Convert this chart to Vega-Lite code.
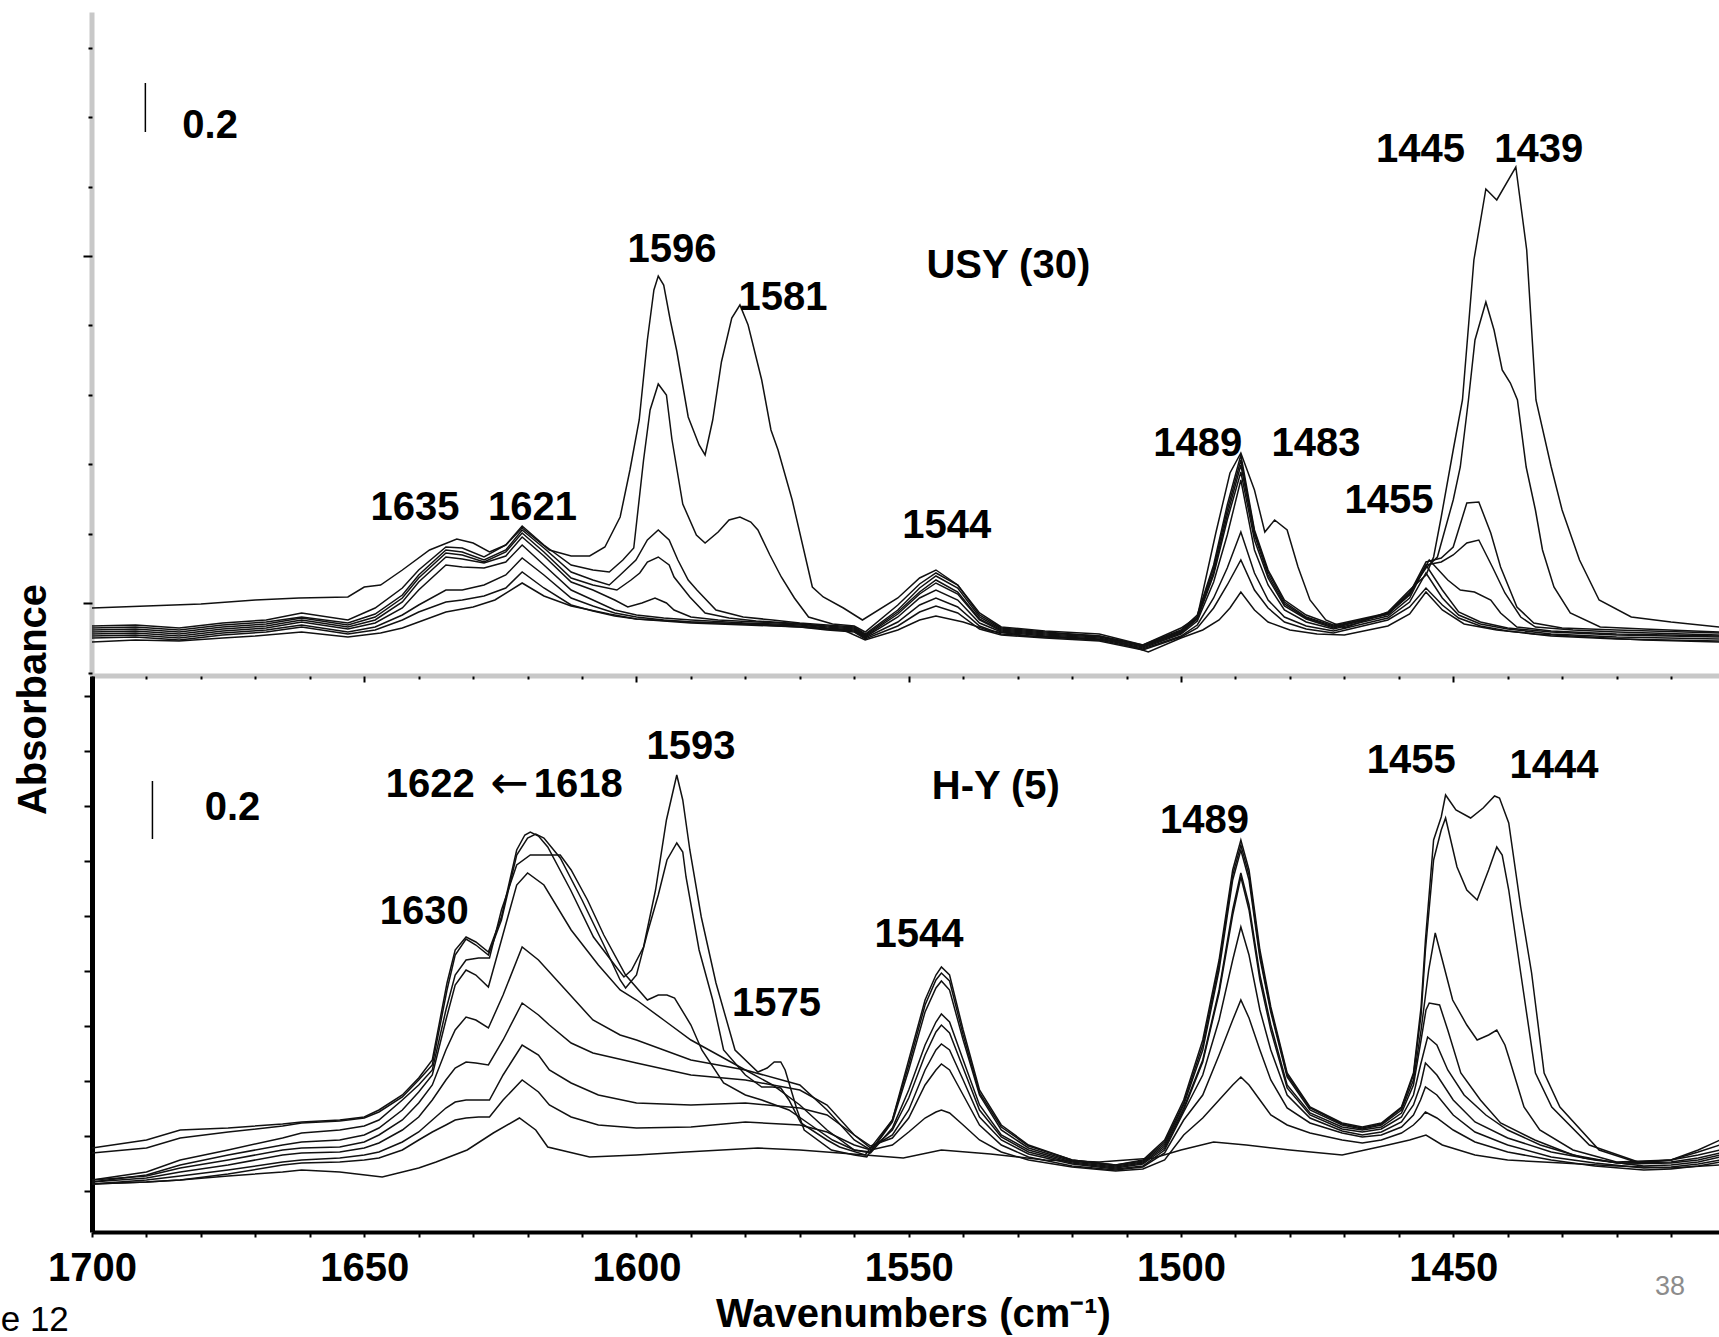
{
"$schema": "https://vega.github.io/schema/vega-lite/v6.json",
"padding": {"left": 0, "top": 10, "right": 0, "bottom": 0},
"background": "white",
"spacing": 0,
"bounds": "flush",
"config": {"view": {"stroke": null}, "axis": {"grid": false}},
"resolve": {"scale": {"x": "independent", "y": "independent"}},
"datasets": {
"top": [
{"s":"T1","w":1700,"a":0.328},{"s":"T1","w":1690,"a":0.336},{"s":"T1","w":1680,"a":0.344},{"s":"T1","w":1670,"a":0.36},{"s":"T1","w":1662,"a":0.368},{"s":"T1","w":1653,"a":0.372},{"s":"T1","w":1650,"a":0.412},{"s":"T1","w":1647,"a":0.42},{"s":"T1","w":1643,"a":0.48},{"s":"T1","w":1638,"a":0.56},{"s":"T1","w":1633,"a":0.604},{"s":"T1","w":1630,"a":0.588},{"s":"T1","w":1627,"a":0.552},{"s":"T1","w":1624,"a":0.58},{"s":"T1","w":1621,"a":0.648},{"s":"T1","w":1616,"a":0.56},{"s":"T1","w":1612,"a":0.536},{"s":"T1","w":1608.6,"a":0.536},{"s":"T1","w":1605.8,"a":0.572},{"s":"T1","w":1603,"a":0.692},{"s":"T1","w":1601.2,"a":0.88},{"s":"T1","w":1599.5,"a":1.08},{"s":"T1","w":1598,"a":1.4},{"s":"T1","w":1596.8,"a":1.6},{"s":"T1","w":1596,"a":1.656},{"s":"T1","w":1595,"a":1.62},{"s":"T1","w":1593.8,"a":1.48},{"s":"T1","w":1592.6,"a":1.356},{"s":"T1","w":1590.5,"a":1.092},{"s":"T1","w":1588.5,"a":0.98},{"s":"T1","w":1587.4,"a":0.94},{"s":"T1","w":1586,"a":1.08},{"s":"T1","w":1584.4,"a":1.312},{"s":"T1","w":1582.5,"a":1.488},{"s":"T1","w":1581,"a":1.54},{"s":"T1","w":1579.5,"a":1.46},{"s":"T1","w":1577,"a":1.24},{"s":"T1","w":1575.3,"a":1.04},{"s":"T1","w":1574,"a":0.96},{"s":"T1","w":1571.4,"a":0.76},{"s":"T1","w":1567.7,"a":0.412},{"s":"T1","w":1565.7,"a":0.372},{"s":"T1","w":1562,"a":0.328},{"s":"T1","w":1558.5,"a":0.28},{"s":"T1","w":1552,"a":0.368},{"s":"T1","w":1548,"a":0.448},{"s":"T1","w":1545,"a":0.48},{"s":"T1","w":1541,"a":0.42},{"s":"T1","w":1537,"a":0.3},{"s":"T1","w":1533,"a":0.248},{"s":"T1","w":1525,"a":0.232},{"s":"T1","w":1515,"a":0.216},{"s":"T1","w":1507,"a":0.18},{"s":"T1","w":1500,"a":0.248},{"s":"T1","w":1497,"a":0.292},{"s":"T1","w":1493.6,"a":0.628},{"s":"T1","w":1491,"a":0.868},{"s":"T1","w":1489,"a":0.948},{"s":"T1","w":1486.5,"a":0.8},{"s":"T1","w":1484.6,"a":0.632},{"s":"T1","w":1482.8,"a":0.68},{"s":"T1","w":1480.5,"a":0.64},{"s":"T1","w":1478.5,"a":0.492},{"s":"T1","w":1476.3,"a":0.36},{"s":"T1","w":1473.4,"a":0.28},{"s":"T1","w":1470,"a":0.248},{"s":"T1","w":1462,"a":0.312},{"s":"T1","w":1458,"a":0.4},{"s":"T1","w":1455,"a":0.46},{"s":"T1","w":1453.6,"a":0.532},{"s":"T1","w":1452.2,"a":0.692},{"s":"T1","w":1450,"a":0.96},{"s":"T1","w":1448.3,"a":1.16},{"s":"T1","w":1446.2,"a":1.72},{"s":"T1","w":1444,"a":2.004},{"s":"T1","w":1442,"a":1.96},{"s":"T1","w":1438.5,"a":2.092},{"s":"T1","w":1436.5,"a":1.76},{"s":"T1","w":1434.8,"a":1.16},{"s":"T1","w":1432,"a":0.892},{"s":"T1","w":1430,"a":0.72},{"s":"T1","w":1426.8,"a":0.52},{"s":"T1","w":1423.2,"a":0.36},{"s":"T1","w":1417.3,"a":0.292},{"s":"T1","w":1410,"a":0.272},{"s":"T1","w":1401,"a":0.252},
{"s":"T2","w":1700,"a":0.256},{"s":"T2","w":1692,"a":0.26},{"s":"T2","w":1684,"a":0.248},{"s":"T2","w":1676,"a":0.268},{"s":"T2","w":1668,"a":0.28},{"s":"T2","w":1661.5,"a":0.308},{"s":"T2","w":1653,"a":0.28},{"s":"T2","w":1648,"a":0.328},{"s":"T2","w":1643,"a":0.408},{"s":"T2","w":1640,"a":0.48},{"s":"T2","w":1635,"a":0.572},{"s":"T2","w":1632,"a":0.568},{"s":"T2","w":1628,"a":0.532},{"s":"T2","w":1624,"a":0.58},{"s":"T2","w":1621,"a":0.656},{"s":"T2","w":1617,"a":0.58},{"s":"T2","w":1612,"a":0.5},{"s":"T2","w":1608,"a":0.48},{"s":"T2","w":1605,"a":0.472},{"s":"T2","w":1602.5,"a":0.52},{"s":"T2","w":1600.5,"a":0.568},{"s":"T2","w":1598.7,"a":0.92},{"s":"T2","w":1597.5,"a":1.12},{"s":"T2","w":1596,"a":1.224},{"s":"T2","w":1594.5,"a":1.18},{"s":"T2","w":1593.5,"a":1.004},{"s":"T2","w":1591.5,"a":0.744},{"s":"T2","w":1589,"a":0.62},{"s":"T2","w":1587.4,"a":0.588},{"s":"T2","w":1585,"a":0.632},{"s":"T2","w":1583,"a":0.68},{"s":"T2","w":1581,"a":0.692},{"s":"T2","w":1579,"a":0.672},{"s":"T2","w":1577.7,"a":0.64},{"s":"T2","w":1575.5,"a":0.54},{"s":"T2","w":1573.4,"a":0.452},{"s":"T2","w":1571,"a":0.368},{"s":"T2","w":1568.4,"a":0.292},{"s":"T2","w":1564,"a":0.264},{"s":"T2","w":1560,"a":0.256},{"s":"T2","w":1558,"a":0.232},{"s":"T2","w":1552,"a":0.34},{"s":"T2","w":1548,"a":0.424},{"s":"T2","w":1545,"a":0.468},{"s":"T2","w":1541,"a":0.42},{"s":"T2","w":1537,"a":0.308},{"s":"T2","w":1533,"a":0.252},{"s":"T2","w":1525,"a":0.236},{"s":"T2","w":1515,"a":0.224},{"s":"T2","w":1507,"a":0.18},{"s":"T2","w":1500,"a":0.24},{"s":"T2","w":1497,"a":0.3},{"s":"T2","w":1494,"a":0.5},{"s":"T2","w":1491.5,"a":0.74},{"s":"T2","w":1489,"a":0.94},{"s":"T2","w":1486.5,"a":0.64},{"s":"T2","w":1484,"a":0.48},{"s":"T2","w":1481,"a":0.36},{"s":"T2","w":1477,"a":0.3},{"s":"T2","w":1472,"a":0.26},{"s":"T2","w":1462,"a":0.308},{"s":"T2","w":1458,"a":0.392},{"s":"T2","w":1455,"a":0.488},{"s":"T2","w":1452.9,"a":0.532},{"s":"T2","w":1450,"a":0.76},{"s":"T2","w":1448.7,"a":0.892},{"s":"T2","w":1447.2,"a":1.16},{"s":"T2","w":1446,"a":1.4},{"s":"T2","w":1444,"a":1.552},{"s":"T2","w":1442.5,"a":1.44},{"s":"T2","w":1441,"a":1.28},{"s":"T2","w":1439.5,"a":1.228},{"s":"T2","w":1438.2,"a":1.16},{"s":"T2","w":1436.6,"a":0.892},{"s":"T2","w":1434.9,"a":0.72},{"s":"T2","w":1433.6,"a":0.56},{"s":"T2","w":1431.5,"a":0.412},{"s":"T2","w":1428.5,"a":0.308},{"s":"T2","w":1423,"a":0.252},{"s":"T2","w":1415,"a":0.244},{"s":"T2","w":1401,"a":0.232},
{"s":"T3","w":1700,"a":0.248},{"s":"T3","w":1692,"a":0.252},{"s":"T3","w":1684,"a":0.24},{"s":"T3","w":1676,"a":0.26},{"s":"T3","w":1668,"a":0.272},{"s":"T3","w":1661.5,"a":0.292},{"s":"T3","w":1653,"a":0.268},{"s":"T3","w":1648,"a":0.304},{"s":"T3","w":1643,"a":0.38},{"s":"T3","w":1640,"a":0.46},{"s":"T3","w":1635,"a":0.56},{"s":"T3","w":1632,"a":0.552},{"s":"T3","w":1628,"a":0.52},{"s":"T3","w":1624,"a":0.56},{"s":"T3","w":1621,"a":0.64},{"s":"T3","w":1617,"a":0.568},{"s":"T3","w":1612,"a":0.472},{"s":"T3","w":1608,"a":0.44},{"s":"T3","w":1605,"a":0.42},{"s":"T3","w":1603,"a":0.46},{"s":"T3","w":1600.1,"a":0.52},{"s":"T3","w":1598,"a":0.6},{"s":"T3","w":1596,"a":0.64},{"s":"T3","w":1594,"a":0.6},{"s":"T3","w":1592.4,"a":0.52},{"s":"T3","w":1590.5,"a":0.44},{"s":"T3","w":1588.9,"a":0.4},{"s":"T3","w":1585.4,"a":0.32},{"s":"T3","w":1580.4,"a":0.292},{"s":"T3","w":1575,"a":0.28},{"s":"T3","w":1570,"a":0.268},{"s":"T3","w":1565,"a":0.26},{"s":"T3","w":1560,"a":0.252},{"s":"T3","w":1558,"a":0.224},{"s":"T3","w":1552,"a":0.32},{"s":"T3","w":1548,"a":0.408},{"s":"T3","w":1545,"a":0.456},{"s":"T3","w":1541,"a":0.408},{"s":"T3","w":1537,"a":0.292},{"s":"T3","w":1533,"a":0.244},{"s":"T3","w":1525,"a":0.228},{"s":"T3","w":1515,"a":0.216},{"s":"T3","w":1507,"a":0.176},{"s":"T3","w":1500,"a":0.236},{"s":"T3","w":1497,"a":0.292},{"s":"T3","w":1494,"a":0.488},{"s":"T3","w":1491.5,"a":0.72},{"s":"T3","w":1489,"a":0.92},{"s":"T3","w":1486.5,"a":0.632},{"s":"T3","w":1484,"a":0.472},{"s":"T3","w":1481,"a":0.352},{"s":"T3","w":1477,"a":0.292},{"s":"T3","w":1472,"a":0.256},{"s":"T3","w":1462,"a":0.304},{"s":"T3","w":1458,"a":0.388},{"s":"T3","w":1455,"a":0.512},{"s":"T3","w":1452.2,"a":0.528},{"s":"T3","w":1450,"a":0.572},{"s":"T3","w":1447.5,"a":0.748},{"s":"T3","w":1445.3,"a":0.752},{"s":"T3","w":1443.1,"a":0.628},{"s":"T3","w":1441.3,"a":0.492},{"s":"T3","w":1438.3,"a":0.332},{"s":"T3","w":1435.2,"a":0.268},{"s":"T3","w":1430,"a":0.248},{"s":"T3","w":1420,"a":0.24},{"s":"T3","w":1401,"a":0.228},
{"s":"T4","w":1700,"a":0.24},{"s":"T4","w":1692,"a":0.244},{"s":"T4","w":1684,"a":0.232},{"s":"T4","w":1676,"a":0.252},{"s":"T4","w":1668,"a":0.264},{"s":"T4","w":1661.5,"a":0.288},{"s":"T4","w":1653,"a":0.26},{"s":"T4","w":1648,"a":0.292},{"s":"T4","w":1643,"a":0.368},{"s":"T4","w":1640,"a":0.448},{"s":"T4","w":1635,"a":0.548},{"s":"T4","w":1632,"a":0.54},{"s":"T4","w":1628,"a":0.512},{"s":"T4","w":1624,"a":0.552},{"s":"T4","w":1621,"a":0.628},{"s":"T4","w":1617,"a":0.552},{"s":"T4","w":1612,"a":0.448},{"s":"T4","w":1608,"a":0.42},{"s":"T4","w":1603.6,"a":0.4},{"s":"T4","w":1601,"a":0.44},{"s":"T4","w":1599.4,"a":0.468},{"s":"T4","w":1598,"a":0.512},{"s":"T4","w":1596,"a":0.532},{"s":"T4","w":1594,"a":0.5},{"s":"T4","w":1593.1,"a":0.452},{"s":"T4","w":1590.2,"a":0.372},{"s":"T4","w":1587.4,"a":0.308},{"s":"T4","w":1583,"a":0.288},{"s":"T4","w":1578,"a":0.276},{"s":"T4","w":1572,"a":0.268},{"s":"T4","w":1565,"a":0.256},{"s":"T4","w":1560,"a":0.248},{"s":"T4","w":1558,"a":0.22},{"s":"T4","w":1552,"a":0.312},{"s":"T4","w":1548,"a":0.392},{"s":"T4","w":1545,"a":0.44},{"s":"T4","w":1541,"a":0.392},{"s":"T4","w":1537,"a":0.284},{"s":"T4","w":1533,"a":0.24},{"s":"T4","w":1525,"a":0.224},{"s":"T4","w":1515,"a":0.212},{"s":"T4","w":1507,"a":0.176},{"s":"T4","w":1500,"a":0.232},{"s":"T4","w":1497,"a":0.288},{"s":"T4","w":1494,"a":0.472},{"s":"T4","w":1491.5,"a":0.7},{"s":"T4","w":1489,"a":0.9},{"s":"T4","w":1486.5,"a":0.62},{"s":"T4","w":1484,"a":0.46},{"s":"T4","w":1481,"a":0.344},{"s":"T4","w":1477,"a":0.288},{"s":"T4","w":1472,"a":0.252},{"s":"T4","w":1462,"a":0.304},{"s":"T4","w":1458,"a":0.384},{"s":"T4","w":1455,"a":0.5},{"s":"T4","w":1452.2,"a":0.512},{"s":"T4","w":1450,"a":0.54},{"s":"T4","w":1447.5,"a":0.588},{"s":"T4","w":1445.3,"a":0.6},{"s":"T4","w":1442.8,"a":0.492},{"s":"T4","w":1440.5,"a":0.388},{"s":"T4","w":1437.6,"a":0.292},{"s":"T4","w":1434.9,"a":0.252},{"s":"T4","w":1428,"a":0.24},{"s":"T4","w":1420,"a":0.232},{"s":"T4","w":1401,"a":0.22},
{"s":"T5","w":1700,"a":0.232},{"s":"T5","w":1692,"a":0.236},{"s":"T5","w":1684,"a":0.224},{"s":"T5","w":1676,"a":0.244},{"s":"T5","w":1668,"a":0.256},{"s":"T5","w":1661.5,"a":0.28},{"s":"T5","w":1653,"a":0.252},{"s":"T5","w":1648,"a":0.28},{"s":"T5","w":1643,"a":0.352},{"s":"T5","w":1640,"a":0.432},{"s":"T5","w":1635,"a":0.532},{"s":"T5","w":1632,"a":0.524},{"s":"T5","w":1628,"a":0.508},{"s":"T5","w":1624,"a":0.536},{"s":"T5","w":1621,"a":0.612},{"s":"T5","w":1617,"a":0.536},{"s":"T5","w":1612,"a":0.432},{"s":"T5","w":1608,"a":0.4},{"s":"T5","w":1604,"a":0.36},{"s":"T5","w":1601.6,"a":0.332},{"s":"T5","w":1599,"a":0.348},{"s":"T5","w":1596.6,"a":0.368},{"s":"T5","w":1594.5,"a":0.348},{"s":"T5","w":1593.1,"a":0.32},{"s":"T5","w":1590,"a":0.292},{"s":"T5","w":1585,"a":0.28},{"s":"T5","w":1578,"a":0.272},{"s":"T5","w":1570,"a":0.264},{"s":"T5","w":1565,"a":0.252},{"s":"T5","w":1560,"a":0.244},{"s":"T5","w":1558,"a":0.216},{"s":"T5","w":1552,"a":0.304},{"s":"T5","w":1548,"a":0.384},{"s":"T5","w":1545,"a":0.428},{"s":"T5","w":1541,"a":0.384},{"s":"T5","w":1537,"a":0.28},{"s":"T5","w":1533,"a":0.236},{"s":"T5","w":1525,"a":0.22},{"s":"T5","w":1515,"a":0.208},{"s":"T5","w":1507,"a":0.172},{"s":"T5","w":1500,"a":0.228},{"s":"T5","w":1497,"a":0.284},{"s":"T5","w":1494,"a":0.46},{"s":"T5","w":1491.5,"a":0.68},{"s":"T5","w":1489,"a":0.872},{"s":"T5","w":1486.5,"a":0.6},{"s":"T5","w":1484,"a":0.448},{"s":"T5","w":1481,"a":0.336},{"s":"T5","w":1477,"a":0.284},{"s":"T5","w":1472,"a":0.248},{"s":"T5","w":1462,"a":0.304},{"s":"T5","w":1458,"a":0.38},{"s":"T5","w":1454.4,"a":0.52},{"s":"T5","w":1451,"a":0.44},{"s":"T5","w":1448.7,"a":0.4},{"s":"T5","w":1446.1,"a":0.392},{"s":"T5","w":1443.1,"a":0.36},{"s":"T5","w":1441.3,"a":0.308},{"s":"T5","w":1438.3,"a":0.252},{"s":"T5","w":1432,"a":0.236},{"s":"T5","w":1420,"a":0.224},{"s":"T5","w":1401,"a":0.216},
{"s":"T6","w":1700,"a":0.224},{"s":"T6","w":1692,"a":0.228},{"s":"T6","w":1684,"a":0.216},{"s":"T6","w":1676,"a":0.236},{"s":"T6","w":1668,"a":0.248},{"s":"T6","w":1661.5,"a":0.272},{"s":"T6","w":1653,"a":0.244},{"s":"T6","w":1648,"a":0.268},{"s":"T6","w":1643,"a":0.328},{"s":"T6","w":1640,"a":0.4},{"s":"T6","w":1635,"a":0.5},{"s":"T6","w":1632,"a":0.492},{"s":"T6","w":1628,"a":0.488},{"s":"T6","w":1624,"a":0.512},{"s":"T6","w":1621,"a":0.58},{"s":"T6","w":1617,"a":0.5},{"s":"T6","w":1612,"a":0.4},{"s":"T6","w":1608,"a":0.36},{"s":"T6","w":1604,"a":0.32},{"s":"T6","w":1600,"a":0.3},{"s":"T6","w":1595,"a":0.288},{"s":"T6","w":1590,"a":0.28},{"s":"T6","w":1580,"a":0.268},{"s":"T6","w":1570,"a":0.26},{"s":"T6","w":1565,"a":0.248},{"s":"T6","w":1560,"a":0.24},{"s":"T6","w":1558,"a":0.212},{"s":"T6","w":1552,"a":0.292},{"s":"T6","w":1548,"a":0.368},{"s":"T6","w":1545,"a":0.4},{"s":"T6","w":1541,"a":0.36},{"s":"T6","w":1537,"a":0.268},{"s":"T6","w":1533,"a":0.232},{"s":"T6","w":1525,"a":0.216},{"s":"T6","w":1515,"a":0.204},{"s":"T6","w":1507,"a":0.168},{"s":"T6","w":1500,"a":0.224},{"s":"T6","w":1497,"a":0.276},{"s":"T6","w":1494,"a":0.432},{"s":"T6","w":1491.5,"a":0.62},{"s":"T6","w":1489,"a":0.84},{"s":"T6","w":1486.5,"a":0.56},{"s":"T6","w":1484,"a":0.42},{"s":"T6","w":1481,"a":0.32},{"s":"T6","w":1477,"a":0.272},{"s":"T6","w":1472,"a":0.244},{"s":"T6","w":1462,"a":0.296},{"s":"T6","w":1458,"a":0.368},{"s":"T6","w":1455,"a":0.5},{"s":"T6","w":1452,"a":0.4},{"s":"T6","w":1449,"a":0.312},{"s":"T6","w":1445,"a":0.272},{"s":"T6","w":1440,"a":0.248},{"s":"T6","w":1432,"a":0.232},{"s":"T6","w":1420,"a":0.22},{"s":"T6","w":1401,"a":0.212},
{"s":"T7","w":1700,"a":0.216},{"s":"T7","w":1692,"a":0.22},{"s":"T7","w":1684,"a":0.208},{"s":"T7","w":1676,"a":0.228},{"s":"T7","w":1668,"a":0.24},{"s":"T7","w":1661.5,"a":0.26},{"s":"T7","w":1653,"a":0.232},{"s":"T7","w":1648,"a":0.252},{"s":"T7","w":1643,"a":0.3},{"s":"T7","w":1640,"a":0.34},{"s":"T7","w":1635,"a":0.4},{"s":"T7","w":1632,"a":0.4},{"s":"T7","w":1628,"a":0.42},{"s":"T7","w":1624,"a":0.46},{"s":"T7","w":1621,"a":0.528},{"s":"T7","w":1617,"a":0.46},{"s":"T7","w":1612,"a":0.368},{"s":"T7","w":1608,"a":0.336},{"s":"T7","w":1604,"a":0.308},{"s":"T7","w":1600,"a":0.292},{"s":"T7","w":1595,"a":0.28},{"s":"T7","w":1590,"a":0.272},{"s":"T7","w":1580,"a":0.264},{"s":"T7","w":1570,"a":0.256},{"s":"T7","w":1565,"a":0.244},{"s":"T7","w":1560,"a":0.236},{"s":"T7","w":1558,"a":0.208},{"s":"T7","w":1552,"a":0.272},{"s":"T7","w":1548,"a":0.34},{"s":"T7","w":1545,"a":0.368},{"s":"T7","w":1541,"a":0.332},{"s":"T7","w":1537,"a":0.256},{"s":"T7","w":1533,"a":0.224},{"s":"T7","w":1525,"a":0.212},{"s":"T7","w":1515,"a":0.2},{"s":"T7","w":1507,"a":0.164},{"s":"T7","w":1500,"a":0.216},{"s":"T7","w":1497,"a":0.26},{"s":"T7","w":1494,"a":0.368},{"s":"T7","w":1491.5,"a":0.488},{"s":"T7","w":1489,"a":0.632},{"s":"T7","w":1486.5,"a":0.468},{"s":"T7","w":1484,"a":0.36},{"s":"T7","w":1481,"a":0.292},{"s":"T7","w":1477,"a":0.256},{"s":"T7","w":1472,"a":0.236},{"s":"T7","w":1462,"a":0.288},{"s":"T7","w":1458,"a":0.352},{"s":"T7","w":1455,"a":0.468},{"s":"T7","w":1452,"a":0.368},{"s":"T7","w":1449,"a":0.3},{"s":"T7","w":1445,"a":0.264},{"s":"T7","w":1440,"a":0.244},{"s":"T7","w":1432,"a":0.224},{"s":"T7","w":1420,"a":0.212},{"s":"T7","w":1401,"a":0.204},
{"s":"T8","w":1700,"a":0.208},{"s":"T8","w":1692,"a":0.212},{"s":"T8","w":1684,"a":0.2},{"s":"T8","w":1676,"a":0.22},{"s":"T8","w":1668,"a":0.232},{"s":"T8","w":1661.5,"a":0.252},{"s":"T8","w":1653,"a":0.224},{"s":"T8","w":1648,"a":0.24},{"s":"T8","w":1643,"a":0.28},{"s":"T8","w":1640,"a":0.312},{"s":"T8","w":1635,"a":0.352},{"s":"T8","w":1632,"a":0.36},{"s":"T8","w":1628,"a":0.376},{"s":"T8","w":1624,"a":0.408},{"s":"T8","w":1621,"a":0.472},{"s":"T8","w":1617,"a":0.408},{"s":"T8","w":1612,"a":0.34},{"s":"T8","w":1608,"a":0.316},{"s":"T8","w":1604,"a":0.296},{"s":"T8","w":1600,"a":0.284},{"s":"T8","w":1595,"a":0.276},{"s":"T8","w":1590,"a":0.268},{"s":"T8","w":1580,"a":0.26},{"s":"T8","w":1570,"a":0.252},{"s":"T8","w":1565,"a":0.24},{"s":"T8","w":1560,"a":0.232},{"s":"T8","w":1558,"a":0.204},{"s":"T8","w":1552,"a":0.256},{"s":"T8","w":1548,"a":0.312},{"s":"T8","w":1545,"a":0.336},{"s":"T8","w":1541,"a":0.308},{"s":"T8","w":1537,"a":0.244},{"s":"T8","w":1533,"a":0.22},{"s":"T8","w":1525,"a":0.208},{"s":"T8","w":1515,"a":0.196},{"s":"T8","w":1507,"a":0.16},{"s":"T8","w":1500,"a":0.212},{"s":"T8","w":1497,"a":0.248},{"s":"T8","w":1494,"a":0.328},{"s":"T8","w":1491.5,"a":0.42},{"s":"T8","w":1489,"a":0.52},{"s":"T8","w":1486.5,"a":0.4},{"s":"T8","w":1484,"a":0.328},{"s":"T8","w":1481,"a":0.272},{"s":"T8","w":1477,"a":0.244},{"s":"T8","w":1472,"a":0.228},{"s":"T8","w":1462,"a":0.28},{"s":"T8","w":1458,"a":0.332},{"s":"T8","w":1455,"a":0.408},{"s":"T8","w":1452,"a":0.34},{"s":"T8","w":1449,"a":0.288},{"s":"T8","w":1445,"a":0.256},{"s":"T8","w":1440,"a":0.236},{"s":"T8","w":1432,"a":0.216},{"s":"T8","w":1420,"a":0.204},{"s":"T8","w":1401,"a":0.196},
{"s":"T9","w":1700,"a":0.192},{"s":"T9","w":1692,"a":0.2},{"s":"T9","w":1684,"a":0.196},{"s":"T9","w":1676,"a":0.208},{"s":"T9","w":1670,"a":0.216},{"s":"T9","w":1661.5,"a":0.232},{"s":"T9","w":1653,"a":0.212},{"s":"T9","w":1647,"a":0.228},{"s":"T9","w":1643,"a":0.248},{"s":"T9","w":1640,"a":0.272},{"s":"T9","w":1635,"a":0.312},{"s":"T9","w":1630,"a":0.332},{"s":"T9","w":1626,"a":0.36},{"s":"T9","w":1621,"a":0.428},{"s":"T9","w":1617,"a":0.376},{"s":"T9","w":1612,"a":0.336},{"s":"T9","w":1605,"a":0.304},{"s":"T9","w":1600,"a":0.284},{"s":"T9","w":1590,"a":0.272},{"s":"T9","w":1580,"a":0.264},{"s":"T9","w":1570,"a":0.252},{"s":"T9","w":1562,"a":0.24},{"s":"T9","w":1558,"a":0.2},{"s":"T9","w":1552,"a":0.24},{"s":"T9","w":1548,"a":0.28},{"s":"T9","w":1545,"a":0.296},{"s":"T9","w":1540,"a":0.272},{"s":"T9","w":1535,"a":0.236},{"s":"T9","w":1528,"a":0.216},{"s":"T9","w":1520,"a":0.208},{"s":"T9","w":1512,"a":0.196},{"s":"T9","w":1506,"a":0.152},{"s":"T9","w":1500,"a":0.208},{"s":"T9","w":1496,"a":0.24},{"s":"T9","w":1493,"a":0.28},{"s":"T9","w":1491,"a":0.328},{"s":"T9","w":1489,"a":0.392},{"s":"T9","w":1486.5,"a":0.32},{"s":"T9","w":1484,"a":0.272},{"s":"T9","w":1480,"a":0.24},{"s":"T9","w":1475,"a":0.224},{"s":"T9","w":1470,"a":0.22},{"s":"T9","w":1462,"a":0.256},{"s":"T9","w":1458,"a":0.304},{"s":"T9","w":1455,"a":0.392},{"s":"T9","w":1452,"a":0.32},{"s":"T9","w":1448,"a":0.264},{"s":"T9","w":1442,"a":0.24},{"s":"T9","w":1435,"a":0.224},{"s":"T9","w":1425,"a":0.212},{"s":"T9","w":1415,"a":0.2},{"s":"T9","w":1401,"a":0.192}
],
"bot": [
{"s":"B1","w":1700,"a":0.392},{"s":"B1","w":1690,"a":0.424},{"s":"B1","w":1683.8,"a":0.464},{"s":"B1","w":1675,"a":0.472},{"s":"B1","w":1665,"a":0.488},{"s":"B1","w":1661.5,"a":0.496},{"s":"B1","w":1654.5,"a":0.504},{"s":"B1","w":1650,"a":0.516},{"s":"B1","w":1647.3,"a":0.544},{"s":"B1","w":1643,"a":0.604},{"s":"B1","w":1640,"a":0.672},{"s":"B1","w":1637.5,"a":0.744},{"s":"B1","w":1634.8,"a":1.052},{"s":"B1","w":1633.3,"a":1.184},{"s":"B1","w":1631.3,"a":1.236},{"s":"B1","w":1629.5,"a":1.216},{"s":"B1","w":1627.2,"a":1.176},{"s":"B1","w":1624.8,"a":1.316},{"s":"B1","w":1622,"a":1.584},{"s":"B1","w":1620.5,"a":1.644},{"s":"B1","w":1619.5,"a":1.656},{"s":"B1","w":1618,"a":1.64},{"s":"B1","w":1616.3,"a":1.596},{"s":"B1","w":1612.1,"a":1.424},{"s":"B1","w":1607.9,"a":1.236},{"s":"B1","w":1604,"a":1.124},{"s":"B1","w":1602.3,"a":1.076},{"s":"B1","w":1600.9,"a":1.104},{"s":"B1","w":1598.7,"a":1.196},{"s":"B1","w":1596.5,"a":1.424},{"s":"B1","w":1594.5,"a":1.704},{"s":"B1","w":1592.6,"a":1.884},{"s":"B1","w":1591.5,"a":1.784},{"s":"B1","w":1590.2,"a":1.584},{"s":"B1","w":1588.1,"a":1.316},{"s":"B1","w":1585.4,"a":1.052},{"s":"B1","w":1581.9,"a":0.784},{"s":"B1","w":1577.7,"a":0.696},{"s":"B1","w":1576,"a":0.712},{"s":"B1","w":1574.7,"a":0.736},{"s":"B1","w":1573.5,"a":0.736},{"s":"B1","w":1572.7,"a":0.704},{"s":"B1","w":1570.5,"a":0.544},{"s":"B1","w":1569.2,"a":0.464},{"s":"B1","w":1564.2,"a":0.384},{"s":"B1","w":1560,"a":0.364},{"s":"B1","w":1557.7,"a":0.356},{"s":"B1","w":1553,"a":0.504},{"s":"B1","w":1550,"a":0.744},{"s":"B1","w":1547,"a":0.984},{"s":"B1","w":1545,"a":1.084},{"s":"B1","w":1544,"a":1.116},{"s":"B1","w":1542.5,"a":1.084},{"s":"B1","w":1540,"a":0.864},{"s":"B1","w":1537,"a":0.624},{"s":"B1","w":1533,"a":0.484},{"s":"B1","w":1528,"a":0.404},{"s":"B1","w":1520,"a":0.344},{"s":"B1","w":1512,"a":0.324},{"s":"B1","w":1507,"a":0.344},{"s":"B1","w":1503,"a":0.424},{"s":"B1","w":1499.5,"a":0.584},{"s":"B1","w":1496,"a":0.824},{"s":"B1","w":1493,"a":1.144},{"s":"B1","w":1490.5,"a":1.504},{"s":"B1","w":1489,"a":1.624},{"s":"B1","w":1487.5,"a":1.504},{"s":"B1","w":1485.5,"a":1.184},{"s":"B1","w":1483.5,"a":0.956},{"s":"B1","w":1480.5,"a":0.692},{"s":"B1","w":1476.3,"a":0.556},{"s":"B1","w":1470.4,"a":0.492},{"s":"B1","w":1466.7,"a":0.476},{"s":"B1","w":1463.2,"a":0.492},{"s":"B1","w":1459.5,"a":0.556},{"s":"B1","w":1457.3,"a":0.692},{"s":"B1","w":1455.9,"a":0.956},{"s":"B1","w":1455.1,"a":1.224},{"s":"B1","w":1453.6,"a":1.624},{"s":"B1","w":1452.2,"a":1.716},{"s":"B1","w":1451.4,"a":1.804},{"s":"B1","w":1449.5,"a":1.744},{"s":"B1","w":1446.8,"a":1.712},{"s":"B1","w":1444.5,"a":1.752},{"s":"B1","w":1442.4,"a":1.8},{"s":"B1","w":1441.5,"a":1.792},{"s":"B1","w":1439.8,"a":1.692},{"s":"B1","w":1437.6,"a":1.356},{"s":"B1","w":1435.6,"a":1.092},{"s":"B1","w":1433.3,"a":0.692},{"s":"B1","w":1430.4,"a":0.556},{"s":"B1","w":1423.2,"a":0.384},{"s":"B1","w":1415.9,"a":0.332},{"s":"B1","w":1410,"a":0.344},{"s":"B1","w":1405,"a":0.384},{"s":"B1","w":1401,"a":0.424},
{"s":"B2","w":1700,"a":0.372},{"s":"B2","w":1690,"a":0.392},{"s":"B2","w":1683.8,"a":0.432},{"s":"B2","w":1675,"a":0.456},{"s":"B2","w":1665,"a":0.48},{"s":"B2","w":1661.5,"a":0.492},{"s":"B2","w":1654.5,"a":0.5},{"s":"B2","w":1650,"a":0.512},{"s":"B2","w":1647.3,"a":0.536},{"s":"B2","w":1643,"a":0.596},{"s":"B2","w":1640,"a":0.664},{"s":"B2","w":1637.5,"a":0.724},{"s":"B2","w":1634.8,"a":1.024},{"s":"B2","w":1633.3,"a":1.164},{"s":"B2","w":1631.3,"a":1.228},{"s":"B2","w":1629.5,"a":1.204},{"s":"B2","w":1627.2,"a":1.164},{"s":"B2","w":1624.8,"a":1.304},{"s":"B2","w":1622,"a":1.564},{"s":"B2","w":1620,"a":1.632},{"s":"B2","w":1618.5,"a":1.648},{"s":"B2","w":1617,"a":1.632},{"s":"B2","w":1614,"a":1.552},{"s":"B2","w":1610,"a":1.384},{"s":"B2","w":1606,"a":1.204},{"s":"B2","w":1603,"a":1.064},{"s":"B2","w":1602,"a":1.032},{"s":"B2","w":1600,"a":1.084},{"s":"B2","w":1598,"a":1.252},{"s":"B2","w":1596,"a":1.404},{"s":"B2","w":1594.4,"a":1.544},{"s":"B2","w":1592.6,"a":1.612},{"s":"B2","w":1591.5,"a":1.576},{"s":"B2","w":1590.9,"a":1.476},{"s":"B2","w":1588.5,"a":1.184},{"s":"B2","w":1586,"a":0.984},{"s":"B2","w":1584,"a":0.784},{"s":"B2","w":1580,"a":0.684},{"s":"B2","w":1577,"a":0.636},{"s":"B2","w":1575,"a":0.636},{"s":"B2","w":1573.5,"a":0.632},{"s":"B2","w":1572,"a":0.584},{"s":"B2","w":1569.8,"a":0.492},{"s":"B2","w":1565,"a":0.424},{"s":"B2","w":1562.7,"a":0.396},{"s":"B2","w":1558,"a":0.364},{"s":"B2","w":1553,"a":0.504},{"s":"B2","w":1550,"a":0.724},{"s":"B2","w":1547,"a":0.964},{"s":"B2","w":1545,"a":1.064},{"s":"B2","w":1544,"a":1.092},{"s":"B2","w":1542.5,"a":1.06},{"s":"B2","w":1540,"a":0.844},{"s":"B2","w":1537,"a":0.612},{"s":"B2","w":1533,"a":0.476},{"s":"B2","w":1528,"a":0.4},{"s":"B2","w":1520,"a":0.344},{"s":"B2","w":1512,"a":0.324},{"s":"B2","w":1507,"a":0.34},{"s":"B2","w":1503,"a":0.416},{"s":"B2","w":1499.5,"a":0.572},{"s":"B2","w":1496,"a":0.804},{"s":"B2","w":1493,"a":1.124},{"s":"B2","w":1490.5,"a":1.484},{"s":"B2","w":1489,"a":1.604},{"s":"B2","w":1487.5,"a":1.484},{"s":"B2","w":1485.5,"a":1.164},{"s":"B2","w":1483.5,"a":0.944},{"s":"B2","w":1480.5,"a":0.684},{"s":"B2","w":1476.3,"a":0.552},{"s":"B2","w":1470.4,"a":0.488},{"s":"B2","w":1466.7,"a":0.472},{"s":"B2","w":1463.2,"a":0.488},{"s":"B2","w":1459.5,"a":0.552},{"s":"B2","w":1457.3,"a":0.684},{"s":"B2","w":1455.9,"a":0.924},{"s":"B2","w":1455.1,"a":1.184},{"s":"B2","w":1453.6,"a":1.544},{"s":"B2","w":1452.2,"a":1.664},{"s":"B2","w":1451.4,"a":1.712},{"s":"B2","w":1449.3,"a":1.516},{"s":"B2","w":1447.5,"a":1.424},{"s":"B2","w":1445.6,"a":1.384},{"s":"B2","w":1443.5,"a":1.504},{"s":"B2","w":1442,"a":1.596},{"s":"B2","w":1441,"a":1.564},{"s":"B2","w":1439.8,"a":1.424},{"s":"B2","w":1437.6,"a":1.092},{"s":"B2","w":1434.9,"a":0.692},{"s":"B2","w":1431.9,"a":0.556},{"s":"B2","w":1425,"a":0.404},{"s":"B2","w":1416,"a":0.336},{"s":"B2","w":1410,"a":0.344},{"s":"B2","w":1405,"a":0.376},{"s":"B2","w":1401,"a":0.404},
{"s":"B3","w":1700,"a":0.264},{"s":"B3","w":1690,"a":0.296},{"s":"B3","w":1683.8,"a":0.344},{"s":"B3","w":1675,"a":0.384},{"s":"B3","w":1665,"a":0.432},{"s":"B3","w":1661.5,"a":0.452},{"s":"B3","w":1654.5,"a":0.464},{"s":"B3","w":1650,"a":0.48},{"s":"B3","w":1647.3,"a":0.504},{"s":"B3","w":1643,"a":0.584},{"s":"B3","w":1640,"a":0.644},{"s":"B3","w":1637.5,"a":0.704},{"s":"B3","w":1635,"a":0.944},{"s":"B3","w":1633.3,"a":1.084},{"s":"B3","w":1631.3,"a":1.144},{"s":"B3","w":1629,"a":1.152},{"s":"B3","w":1627,"a":1.152},{"s":"B3","w":1624.8,"a":1.344},{"s":"B3","w":1622,"a":1.524},{"s":"B3","w":1619.5,"a":1.564},{"s":"B3","w":1614,"a":1.564},{"s":"B3","w":1612,"a":1.504},{"s":"B3","w":1609,"a":1.384},{"s":"B3","w":1606,"a":1.244},{"s":"B3","w":1602,"a":1.084},{"s":"B3","w":1598,"a":0.984},{"s":"B3","w":1596,"a":1.004},{"s":"B3","w":1594.4,"a":1.004},{"s":"B3","w":1593,"a":0.992},{"s":"B3","w":1590,"a":0.884},{"s":"B3","w":1588,"a":0.784},{"s":"B3","w":1584,"a":0.652},{"s":"B3","w":1580,"a":0.604},{"s":"B3","w":1577,"a":0.584},{"s":"B3","w":1572,"a":0.544},{"s":"B3","w":1568,"a":0.484},{"s":"B3","w":1564,"a":0.424},{"s":"B3","w":1560,"a":0.384},{"s":"B3","w":1557,"a":0.376},{"s":"B3","w":1553,"a":0.496},{"s":"B3","w":1550,"a":0.704},{"s":"B3","w":1547,"a":0.936},{"s":"B3","w":1545,"a":1.032},{"s":"B3","w":1544,"a":1.06},{"s":"B3","w":1542.5,"a":1.024},{"s":"B3","w":1540,"a":0.824},{"s":"B3","w":1537,"a":0.604},{"s":"B3","w":1533,"a":0.464},{"s":"B3","w":1528,"a":0.392},{"s":"B3","w":1520,"a":0.34},{"s":"B3","w":1512,"a":0.32},{"s":"B3","w":1507,"a":0.336},{"s":"B3","w":1503,"a":0.408},{"s":"B3","w":1499.5,"a":0.564},{"s":"B3","w":1496,"a":0.784},{"s":"B3","w":1493,"a":1.104},{"s":"B3","w":1490.5,"a":1.464},{"s":"B3","w":1489,"a":1.584},{"s":"B3","w":1487.5,"a":1.464},{"s":"B3","w":1485.5,"a":1.152},{"s":"B3","w":1483.5,"a":0.936},{"s":"B3","w":1480.5,"a":0.676},{"s":"B3","w":1476.3,"a":0.544},{"s":"B3","w":1470.4,"a":0.484},{"s":"B3","w":1466.7,"a":0.468},{"s":"B3","w":1463.2,"a":0.484},{"s":"B3","w":1459.5,"a":0.544},{"s":"B3","w":1457.3,"a":0.664},{"s":"B3","w":1455.9,"a":0.864},{"s":"B3","w":1454.5,"a":1.104},{"s":"B3","w":1453.3,"a":1.252},{"s":"B3","w":1452,"a":1.144},{"s":"B3","w":1450.1,"a":0.984},{"s":"B3","w":1447.5,"a":0.884},{"s":"B3","w":1445.6,"a":0.824},{"s":"B3","w":1443.5,"a":0.844},{"s":"B3","w":1442,"a":0.864},{"s":"B3","w":1440.5,"a":0.804},{"s":"B3","w":1439.8,"a":0.756},{"s":"B3","w":1437,"a":0.556},{"s":"B3","w":1434.1,"a":0.464},{"s":"B3","w":1428,"a":0.384},{"s":"B3","w":1420,"a":0.336},{"s":"B3","w":1410,"a":0.344},{"s":"B3","w":1405,"a":0.364},{"s":"B3","w":1401,"a":0.384},
{"s":"B4","w":1700,"a":0.256},{"s":"B4","w":1690,"a":0.284},{"s":"B4","w":1683.8,"a":0.324},{"s":"B4","w":1675,"a":0.364},{"s":"B4","w":1665,"a":0.404},{"s":"B4","w":1661.5,"a":0.416},{"s":"B4","w":1654.5,"a":0.424},{"s":"B4","w":1650,"a":0.444},{"s":"B4","w":1647.3,"a":0.472},{"s":"B4","w":1643,"a":0.544},{"s":"B4","w":1640,"a":0.616},{"s":"B4","w":1637.5,"a":0.684},{"s":"B4","w":1635,"a":0.904},{"s":"B4","w":1633.3,"a":1.044},{"s":"B4","w":1631.3,"a":1.104},{"s":"B4","w":1629.5,"a":1.084},{"s":"B4","w":1627.2,"a":1.036},{"s":"B4","w":1624.8,"a":1.224},{"s":"B4","w":1622,"a":1.444},{"s":"B4","w":1620,"a":1.492},{"s":"B4","w":1617,"a":1.444},{"s":"B4","w":1612,"a":1.264},{"s":"B4","w":1607,"a":1.124},{"s":"B4","w":1603,"a":1.024},{"s":"B4","w":1600,"a":0.984},{"s":"B4","w":1595,"a":0.904},{"s":"B4","w":1590,"a":0.824},{"s":"B4","w":1585,"a":0.764},{"s":"B4","w":1580,"a":0.704},{"s":"B4","w":1575,"a":0.644},{"s":"B4","w":1570,"a":0.564},{"s":"B4","w":1565,"a":0.464},{"s":"B4","w":1560,"a":0.384},{"s":"B4","w":1557,"a":0.372},{"s":"B4","w":1553,"a":0.472},{"s":"B4","w":1550,"a":0.624},{"s":"B4","w":1547,"a":0.804},{"s":"B4","w":1545,"a":0.896},{"s":"B4","w":1544,"a":0.928},{"s":"B4","w":1542.5,"a":0.896},{"s":"B4","w":1540,"a":0.744},{"s":"B4","w":1537,"a":0.564},{"s":"B4","w":1533,"a":0.444},{"s":"B4","w":1528,"a":0.384},{"s":"B4","w":1520,"a":0.336},{"s":"B4","w":1512,"a":0.316},{"s":"B4","w":1507,"a":0.332},{"s":"B4","w":1503,"a":0.4},{"s":"B4","w":1499.5,"a":0.552},{"s":"B4","w":1496,"a":0.744},{"s":"B4","w":1493,"a":1.024},{"s":"B4","w":1490.5,"a":1.344},{"s":"B4","w":1489,"a":1.492},{"s":"B4","w":1487.5,"a":1.364},{"s":"B4","w":1485.5,"a":1.084},{"s":"B4","w":1483.5,"a":0.884},{"s":"B4","w":1480.5,"a":0.644},{"s":"B4","w":1476.3,"a":0.532},{"s":"B4","w":1470.4,"a":0.476},{"s":"B4","w":1466.7,"a":0.464},{"s":"B4","w":1463.2,"a":0.476},{"s":"B4","w":1459.5,"a":0.532},{"s":"B4","w":1457.3,"a":0.644},{"s":"B4","w":1455.9,"a":0.824},{"s":"B4","w":1455,"a":0.944},{"s":"B4","w":1454.4,"a":0.972},{"s":"B4","w":1452.5,"a":0.964},{"s":"B4","w":1451,"a":0.864},{"s":"B4","w":1448.6,"a":0.692},{"s":"B4","w":1445,"a":0.584},{"s":"B4","w":1441.3,"a":0.492},{"s":"B4","w":1435,"a":0.424},{"s":"B4","w":1428,"a":0.364},{"s":"B4","w":1420,"a":0.332},{"s":"B4","w":1410,"a":0.336},{"s":"B4","w":1405,"a":0.352},{"s":"B4","w":1401,"a":0.372},
{"s":"B5","w":1700,"a":0.264},{"s":"B5","w":1690,"a":0.28},{"s":"B5","w":1683.8,"a":0.312},{"s":"B5","w":1675,"a":0.344},{"s":"B5","w":1665,"a":0.384},{"s":"B5","w":1661.5,"a":0.392},{"s":"B5","w":1654.5,"a":0.396},{"s":"B5","w":1650,"a":0.416},{"s":"B5","w":1647.3,"a":0.444},{"s":"B5","w":1643,"a":0.504},{"s":"B5","w":1640,"a":0.572},{"s":"B5","w":1637.5,"a":0.644},{"s":"B5","w":1635,"a":0.784},{"s":"B5","w":1633.3,"a":0.864},{"s":"B5","w":1631.3,"a":0.916},{"s":"B5","w":1629.5,"a":0.904},{"s":"B5","w":1627.2,"a":0.872},{"s":"B5","w":1624.5,"a":1.004},{"s":"B5","w":1621,"a":1.196},{"s":"B5","w":1618,"a":1.144},{"s":"B5","w":1613,"a":1.024},{"s":"B5","w":1608,"a":0.904},{"s":"B5","w":1603,"a":0.844},{"s":"B5","w":1600,"a":0.824},{"s":"B5","w":1595,"a":0.784},{"s":"B5","w":1590,"a":0.744},{"s":"B5","w":1580,"a":0.704},{"s":"B5","w":1570,"a":0.644},{"s":"B5","w":1565,"a":0.544},{"s":"B5","w":1560,"a":0.424},{"s":"B5","w":1557,"a":0.384},{"s":"B5","w":1553,"a":0.464},{"s":"B5","w":1550,"a":0.592},{"s":"B5","w":1547,"a":0.764},{"s":"B5","w":1545,"a":0.856},{"s":"B5","w":1544,"a":0.884},{"s":"B5","w":1542.5,"a":0.852},{"s":"B5","w":1540,"a":0.712},{"s":"B5","w":1537,"a":0.544},{"s":"B5","w":1533,"a":0.436},{"s":"B5","w":1528,"a":0.376},{"s":"B5","w":1520,"a":0.332},{"s":"B5","w":1512,"a":0.312},{"s":"B5","w":1507,"a":0.328},{"s":"B5","w":1503,"a":0.392},{"s":"B5","w":1499.5,"a":0.544},{"s":"B5","w":1496,"a":0.736},{"s":"B5","w":1493,"a":1.012},{"s":"B5","w":1490.5,"a":1.324},{"s":"B5","w":1489,"a":1.476},{"s":"B5","w":1487.5,"a":1.344},{"s":"B5","w":1485.5,"a":1.064},{"s":"B5","w":1483.5,"a":0.864},{"s":"B5","w":1480.5,"a":0.632},{"s":"B5","w":1476.3,"a":0.524},{"s":"B5","w":1470.4,"a":0.468},{"s":"B5","w":1466.7,"a":0.456},{"s":"B5","w":1463.2,"a":0.468},{"s":"B5","w":1459.5,"a":0.516},{"s":"B5","w":1457.3,"a":0.604},{"s":"B5","w":1456,"a":0.724},{"s":"B5","w":1454.7,"a":0.836},{"s":"B5","w":1453,"a":0.804},{"s":"B5","w":1451,"a":0.704},{"s":"B5","w":1448,"a":0.604},{"s":"B5","w":1444,"a":0.524},{"s":"B5","w":1440,"a":0.464},{"s":"B5","w":1434,"a":0.404},{"s":"B5","w":1426,"a":0.352},{"s":"B5","w":1418,"a":0.328},{"s":"B5","w":1410,"a":0.332},{"s":"B5","w":1405,"a":0.344},{"s":"B5","w":1401,"a":0.364},
{"s":"B6","w":1700,"a":0.256},{"s":"B6","w":1690,"a":0.272},{"s":"B6","w":1683.8,"a":0.296},{"s":"B6","w":1675,"a":0.324},{"s":"B6","w":1665,"a":0.364},{"s":"B6","w":1661.5,"a":0.372},{"s":"B6","w":1654.5,"a":0.376},{"s":"B6","w":1650,"a":0.392},{"s":"B6","w":1647.3,"a":0.412},{"s":"B6","w":1643,"a":0.464},{"s":"B6","w":1640,"a":0.516},{"s":"B6","w":1637.5,"a":0.584},{"s":"B6","w":1635,"a":0.664},{"s":"B6","w":1633.3,"a":0.712},{"s":"B6","w":1631.3,"a":0.736},{"s":"B6","w":1629.5,"a":0.732},{"s":"B6","w":1627.2,"a":0.724},{"s":"B6","w":1624.5,"a":0.824},{"s":"B6","w":1621,"a":0.972},{"s":"B6","w":1618,"a":0.924},{"s":"B6","w":1616,"a":0.884},{"s":"B6","w":1612,"a":0.812},{"s":"B6","w":1608,"a":0.772},{"s":"B6","w":1600,"a":0.732},{"s":"B6","w":1590,"a":0.684},{"s":"B6","w":1580,"a":0.664},{"s":"B6","w":1570,"a":0.624},{"s":"B6","w":1565,"a":0.564},{"s":"B6","w":1560,"a":0.444},{"s":"B6","w":1557,"a":0.392},{"s":"B6","w":1553,"a":0.444},{"s":"B6","w":1550,"a":0.544},{"s":"B6","w":1547,"a":0.704},{"s":"B6","w":1545,"a":0.784},{"s":"B6","w":1544,"a":0.808},{"s":"B6","w":1542.5,"a":0.784},{"s":"B6","w":1540,"a":0.664},{"s":"B6","w":1537,"a":0.516},{"s":"B6","w":1533,"a":0.424},{"s":"B6","w":1528,"a":0.368},{"s":"B6","w":1520,"a":0.328},{"s":"B6","w":1512,"a":0.308},{"s":"B6","w":1507,"a":0.32},{"s":"B6","w":1503,"a":0.384},{"s":"B6","w":1499.5,"a":0.536},{"s":"B6","w":1496,"a":0.684},{"s":"B6","w":1493,"a":0.904},{"s":"B6","w":1490.5,"a":1.144},{"s":"B6","w":1489,"a":1.276},{"s":"B6","w":1487.5,"a":1.164},{"s":"B6","w":1485.5,"a":0.944},{"s":"B6","w":1483.5,"a":0.784},{"s":"B6","w":1480.5,"a":0.604},{"s":"B6","w":1476.3,"a":0.512},{"s":"B6","w":1470.4,"a":0.46},{"s":"B6","w":1466.7,"a":0.444},{"s":"B6","w":1463.2,"a":0.456},{"s":"B6","w":1459.5,"a":0.496},{"s":"B6","w":1457.3,"a":0.564},{"s":"B6","w":1456,"a":0.644},{"s":"B6","w":1455.1,"a":0.732},{"s":"B6","w":1453,"a":0.684},{"s":"B6","w":1450,"a":0.584},{"s":"B6","w":1446,"a":0.496},{"s":"B6","w":1440,"a":0.432},{"s":"B6","w":1432,"a":0.376},{"s":"B6","w":1424,"a":0.344},{"s":"B6","w":1415,"a":0.32},{"s":"B6","w":1410,"a":0.324},{"s":"B6","w":1405,"a":0.336},{"s":"B6","w":1401,"a":0.356},
{"s":"B7","w":1700,"a":0.248},{"s":"B7","w":1690,"a":0.264},{"s":"B7","w":1683.8,"a":0.28},{"s":"B7","w":1675,"a":0.304},{"s":"B7","w":1665,"a":0.336},{"s":"B7","w":1661.5,"a":0.344},{"s":"B7","w":1654.5,"a":0.352},{"s":"B7","w":1650,"a":0.364},{"s":"B7","w":1647.3,"a":0.376},{"s":"B7","w":1643,"a":0.416},{"s":"B7","w":1640,"a":0.456},{"s":"B7","w":1637.5,"a":0.504},{"s":"B7","w":1635,"a":0.552},{"s":"B7","w":1633.3,"a":0.576},{"s":"B7","w":1631.3,"a":0.584},{"s":"B7","w":1629,"a":0.584},{"s":"B7","w":1627,"a":0.584},{"s":"B7","w":1624.5,"a":0.684},{"s":"B7","w":1621,"a":0.804},{"s":"B7","w":1618,"a":0.764},{"s":"B7","w":1616,"a":0.704},{"s":"B7","w":1612,"a":0.652},{"s":"B7","w":1607,"a":0.604},{"s":"B7","w":1600,"a":0.572},{"s":"B7","w":1590,"a":0.564},{"s":"B7","w":1580,"a":0.572},{"s":"B7","w":1570,"a":0.552},{"s":"B7","w":1565,"a":0.524},{"s":"B7","w":1560,"a":0.444},{"s":"B7","w":1557,"a":0.4},{"s":"B7","w":1553,"a":0.432},{"s":"B7","w":1550,"a":0.512},{"s":"B7","w":1547,"a":0.644},{"s":"B7","w":1545,"a":0.704},{"s":"B7","w":1544,"a":0.728},{"s":"B7","w":1542.5,"a":0.704},{"s":"B7","w":1540,"a":0.604},{"s":"B7","w":1537,"a":0.484},{"s":"B7","w":1533,"a":0.404},{"s":"B7","w":1528,"a":0.356},{"s":"B7","w":1520,"a":0.32},{"s":"B7","w":1512,"a":0.304},{"s":"B7","w":1507,"a":0.316},{"s":"B7","w":1503,"a":0.372},{"s":"B7","w":1499.5,"a":0.504},{"s":"B7","w":1496,"a":0.604},{"s":"B7","w":1493,"a":0.764},{"s":"B7","w":1490.5,"a":0.904},{"s":"B7","w":1489,"a":0.984},{"s":"B7","w":1487.5,"a":0.912},{"s":"B7","w":1485.5,"a":0.784},{"s":"B7","w":1483.5,"a":0.664},{"s":"B7","w":1480.5,"a":0.552},{"s":"B7","w":1476.3,"a":0.492},{"s":"B7","w":1470.4,"a":0.452},{"s":"B7","w":1466.7,"a":0.436},{"s":"B7","w":1463.2,"a":0.444},{"s":"B7","w":1459.5,"a":0.476},{"s":"B7","w":1457.3,"a":0.524},{"s":"B7","w":1456,"a":0.584},{"s":"B7","w":1455.1,"a":0.636},{"s":"B7","w":1453,"a":0.604},{"s":"B7","w":1450,"a":0.524},{"s":"B7","w":1446,"a":0.456},{"s":"B7","w":1440,"a":0.404},{"s":"B7","w":1432,"a":0.356},{"s":"B7","w":1424,"a":0.332},{"s":"B7","w":1415,"a":0.312},{"s":"B7","w":1410,"a":0.316},{"s":"B7","w":1405,"a":0.328},{"s":"B7","w":1401,"a":0.344},
{"s":"B8","w":1700,"a":0.248},{"s":"B8","w":1690,"a":0.256},{"s":"B8","w":1683.8,"a":0.264},{"s":"B8","w":1675,"a":0.288},{"s":"B8","w":1665,"a":0.324},{"s":"B8","w":1661.5,"a":0.332},{"s":"B8","w":1654.5,"a":0.336},{"s":"B8","w":1650,"a":0.344},{"s":"B8","w":1647.3,"a":0.352},{"s":"B8","w":1643,"a":0.384},{"s":"B8","w":1640,"a":0.424},{"s":"B8","w":1637.5,"a":0.456},{"s":"B8","w":1635,"a":0.484},{"s":"B8","w":1633.3,"a":0.504},{"s":"B8","w":1631.3,"a":0.512},{"s":"B8","w":1629,"a":0.516},{"s":"B8","w":1627,"a":0.516},{"s":"B8","w":1624.5,"a":0.584},{"s":"B8","w":1621,"a":0.664},{"s":"B8","w":1618,"a":0.616},{"s":"B8","w":1616,"a":0.564},{"s":"B8","w":1612,"a":0.516},{"s":"B8","w":1607,"a":0.484},{"s":"B8","w":1600,"a":0.472},{"s":"B8","w":1590,"a":0.476},{"s":"B8","w":1580,"a":0.496},{"s":"B8","w":1570,"a":0.484},{"s":"B8","w":1565,"a":0.456},{"s":"B8","w":1560,"a":0.404},{"s":"B8","w":1557,"a":0.384},{"s":"B8","w":1553,"a":0.404},{"s":"B8","w":1550,"a":0.456},{"s":"B8","w":1547,"a":0.512},{"s":"B8","w":1545,"a":0.536},{"s":"B8","w":1544,"a":0.544},{"s":"B8","w":1542.5,"a":0.532},{"s":"B8","w":1540,"a":0.484},{"s":"B8","w":1537,"a":0.424},{"s":"B8","w":1533,"a":0.376},{"s":"B8","w":1528,"a":0.344},{"s":"B8","w":1520,"a":0.316},{"s":"B8","w":1512,"a":0.3},{"s":"B8","w":1507,"a":0.308},{"s":"B8","w":1503,"a":0.344},{"s":"B8","w":1499.5,"a":0.444},{"s":"B8","w":1496,"a":0.512},{"s":"B8","w":1493,"a":0.584},{"s":"B8","w":1490.5,"a":0.644},{"s":"B8","w":1489,"a":0.676},{"s":"B8","w":1487.5,"a":0.644},{"s":"B8","w":1485.5,"a":0.584},{"s":"B8","w":1483.5,"a":0.524},{"s":"B8","w":1480.5,"a":0.484},{"s":"B8","w":1476.3,"a":0.452},{"s":"B8","w":1470.4,"a":0.424},{"s":"B8","w":1466.7,"a":0.412},{"s":"B8","w":1463.2,"a":0.424},{"s":"B8","w":1459.5,"a":0.452},{"s":"B8","w":1457.3,"a":0.484},{"s":"B8","w":1456,"a":0.512},{"s":"B8","w":1455.1,"a":0.536},{"s":"B8","w":1453,"a":0.512},{"s":"B8","w":1450,"a":0.464},{"s":"B8","w":1446,"a":0.416},{"s":"B8","w":1440,"a":0.376},{"s":"B8","w":1432,"a":0.344},{"s":"B8","w":1424,"a":0.32},{"s":"B8","w":1415,"a":0.304},{"s":"B8","w":1410,"a":0.308},{"s":"B8","w":1405,"a":0.32},{"s":"B8","w":1401,"a":0.336},
{"s":"B9","w":1700,"a":0.248},{"s":"B9","w":1690,"a":0.256},{"s":"B9","w":1683.8,"a":0.264},{"s":"B9","w":1675,"a":0.28},{"s":"B9","w":1665,"a":0.296},{"s":"B9","w":1661.5,"a":0.304},{"s":"B9","w":1654.5,"a":0.296},{"s":"B9","w":1646.7,"a":0.276},{"s":"B9","w":1640,"a":0.312},{"s":"B9","w":1636.8,"a":0.336},{"s":"B9","w":1631.1,"a":0.384},{"s":"B9","w":1626.3,"a":0.452},{"s":"B9","w":1621.5,"a":0.512},{"s":"B9","w":1618.5,"a":0.464},{"s":"B9","w":1616.3,"a":0.396},{"s":"B9","w":1608.6,"a":0.356},{"s":"B9","w":1600,"a":0.364},{"s":"B9","w":1590.9,"a":0.376},{"s":"B9","w":1577.7,"a":0.392},{"s":"B9","w":1570,"a":0.384},{"s":"B9","w":1562.7,"a":0.372},{"s":"B9","w":1551,"a":0.352},{"s":"B9","w":1544,"a":0.384},{"s":"B9","w":1535,"a":0.368},{"s":"B9","w":1525,"a":0.344},{"s":"B9","w":1515,"a":0.336},{"s":"B9","w":1505,"a":0.352},{"s":"B9","w":1500,"a":0.384},{"s":"B9","w":1494,"a":0.416},{"s":"B9","w":1488,"a":0.404},{"s":"B9","w":1480,"a":0.384},{"s":"B9","w":1470.4,"a":0.364},{"s":"B9","w":1462,"a":0.404},{"s":"B9","w":1458,"a":0.424},{"s":"B9","w":1455,"a":0.444},{"s":"B9","w":1452,"a":0.404},{"s":"B9","w":1446,"a":0.364},{"s":"B9","w":1440,"a":0.344},{"s":"B9","w":1430,"a":0.332},{"s":"B9","w":1420,"a":0.32},{"s":"B9","w":1410,"a":0.312},{"s":"B9","w":1401,"a":0.324}
],
"topText": [
{"t":"0.2","w":1678.3,"a":2.256},{"t":"1596","w":1593.5,"a":1.76},{"t":"1581","w":1573.1,"a":1.568},{"t":"USY (30)","w":1531.7,"a":1.695},{"t":"1445","w":1456.0,"a":2.16},{"t":"1439","w":1434.3,"a":2.16},{"t":"1489","w":1496.9,"a":0.984},{"t":"1483","w":1475.2,"a":0.984},{"t":"1455","w":1461.8,"a":0.756},{"t":"1635","w":1640.7,"a":0.728},{"t":"1621","w":1619.1,"a":0.728},{"t":"1544","w":1543.0,"a":0.656}
],
"botText": [
{"t":"0.2","w":1674.2,"a":1.752},{"t":"1622","w":1637.9,"a":1.844},{"t":"1618","w":1610.7,"a":1.844},{"t":"1593","w":1590.0,"a":1.996},{"t":"H-Y (5)","w":1534.0,"a":1.836},{"t":"1630","w":1639.0,"a":1.336},{"t":"1575","w":1574.3,"a":0.968},{"t":"1544","w":1548.1,"a":1.243},{"t":"1489","w":1495.7,"a":1.7},{"t":"1455","w":1457.7,"a":1.94},{"t":"1444","w":1431.5,"a":1.92}
]
},
"vconcat": [
{
"width": 1628, "height": 666,
"layer": [
{"data": {"values": [{}]},
 "mark": {"type": "rule", "color": "#c8c8c8", "strokeWidth": 5},
 "encoding": {"x": {"datum": 1700, "type": "quantitative"}, "y": {"datum": 0.056, "type": "quantitative"}, "y2": {"datum": 2.71}}},
{"data": {"values": [{}]},
 "mark": {"type": "rule", "color": "#c8c8c8", "strokeWidth": 5},
 "encoding": {"x": {"datum": 1700, "type": "quantitative"}, "x2": {"datum": 1401}, "y": {"datum": 0.056, "type": "quantitative"}}},
{"data": {"name": "top"},
 "mark": {"type": "line", "color": "#111111", "strokeWidth": 1.5},
 "encoding": {
  "x": {"field": "w", "type": "quantitative",
        "scale": {"domain": [1401, 1700], "reverse": true, "nice": false, "zero": false},
        "axis": {"orient": "bottom", "title": null, "labels": false, "grid": false, "domain": false, "zindex": 1,
                 "values": [1410,1420,1430,1440,1450,1460,1470,1480,1490,1500,1510,1520,1530,1540,1550,1560,1570,1580,1590,1600,1610,1620,1630,1640,1650,1660,1670,1680,1690,1700],
                 "tickColor": "#000000", "tickWidth": 2,
                 "tickSize": {"condition": {"test": "datum.value % 50 === 0", "value": 6}, "value": 3}}},
  "y": {"field": "a", "type": "quantitative",
        "scale": {"domain": [0.056, 2.72], "nice": false, "zero": false},
        "axis": {"title": null, "labels": false, "grid": false, "domain": false, "zindex": 1,
                 "values": [0.0694,0.1042,0.1389,0.1736,0.2083,0.243,0.2778,0.3125,0.3472,0.3819,0.4166,0.4514,0.4861,0.5208,0.5555,0.5902,0.625,0.6597,0.6944,0.7291,0.7638,0.7986,0.8333,0.868,0.9027,0.9374,0.9722,1.0069,1.0416,1.0763,1.111,1.1458,1.1805,1.2152,1.2499,1.2846,1.3194,1.3541,1.3888,1.4235,1.4582,1.493,1.5277,1.5624,1.5971,1.6318,1.6666,1.7013,1.736,1.7707,1.8054,1.8402,1.8749,1.9096,1.9443,1.979,2.0138,2.0485,2.0832,2.1179,2.1526,2.1874,2.2221,2.2568,2.2915,2.3262,2.361,2.3957,2.4304,2.4651,2.4998,2.5346,2.5693,2.604,2.6387,2.6734,2.7],
                 "tickColor": "#000000", "tickWidth": 2,
                 "tickSize": {"condition": {"test": "abs(datum.value / 0.1736 - round(datum.value / 0.1736)) < 0.05", "value": 9}, "value": 4}}},
  "detail": {"field": "s", "type": "nominal"}
 }},
{"data": {"values": [{"w": 1690.2, "a": 2.428, "a2": 2.232}]},
 "mark": {"type": "rule", "color": "#000000", "strokeWidth": 1.5},
 "encoding": {"x": {"field": "w", "type": "quantitative"}, "y": {"field": "a", "type": "quantitative"}, "y2": {"field": "a2"}}},
{"data": {"name": "topText"},
 "mark": {"type": "text", "font": "Liberation Sans", "fontSize": 40, "fontWeight": "bold", "color": "#000000", "align": "center", "baseline": "middle"},
 "encoding": {"x": {"field": "w", "type": "quantitative"}, "y": {"field": "a", "type": "quantitative"}, "text": {"field": "t"}}}
]
},
{
"width": 1628, "height": 556,
"layer": [
{"data": {"name": "bot"},
 "mark": {"type": "line", "color": "#111111", "strokeWidth": 1.5},
 "encoding": {
  "x": {"field": "w", "type": "quantitative",
        "scale": {"domain": [1401, 1700], "reverse": true, "nice": false, "zero": false},
        "axis": {"orient": "bottom", "grid": false, "format": "d",
                 "values": [1410,1420,1430,1440,1450,1460,1470,1480,1490,1500,1510,1520,1530,1540,1550,1560,1570,1580,1590,1600,1610,1620,1630,1640,1650,1660,1670,1680,1690,1700],
                 "labelExpr": "datum.value % 50 === 0 ? datum.label : ''",
                 "labelFont": "Liberation Sans", "labelFontSize": 40, "labelFontWeight": "bold", "labelColor": "#000000",
                 "labelBaseline": "alphabetic", "labelPadding": 43, "labelOverlap": false, "labelFlush": false, "labelBound": false,
                 "domainColor": "#000000", "domainWidth": 4, "tickColor": "#000000", "tickWidth": 2, "tickSize": 5,
                 "title": "Wavenumbers (cm⁻¹)", "titleFont": "Liberation Sans", "titleFontSize": 40, "titleFontWeight": "bold", "titleColor": "#000000",
                 "titleX": 821, "titleY": 94, "titleAlign": "center", "titleBaseline": "alphabetic"}},
  "y": {"field": "a", "type": "quantitative",
        "scale": {"domain": [0.056, 2.28], "nice": false, "zero": false},
        "axis": {"labels": false, "grid": false,
                 "values": [0.22, 0.44, 0.66, 0.88, 1.1, 1.32, 1.54, 1.76, 1.98, 2.2],
                 "domainColor": "#000000", "domainWidth": 5, "tickColor": "#000000", "tickWidth": 2, "tickSize": 8,
                 "title": "Absorbance", "titleFont": "Liberation Sans", "titleFontSize": 40, "titleFontWeight": "bold", "titleColor": "#000000",
                 "titleAngle": -90, "titleX": -59, "titleY": 23, "titleAlign": "center", "titleBaseline": "middle"}},
  "detail": {"field": "s", "type": "nominal"}
 }},
{"data": {"values": [{"w": 1688.9, "a": 1.86, "a2": 1.628}]},
 "mark": {"type": "rule", "color": "#000000", "strokeWidth": 1.5},
 "encoding": {"x": {"field": "w", "type": "quantitative"}, "y": {"field": "a", "type": "quantitative"}, "y2": {"field": "a2"}}},
{"data": {"name": "botText"},
 "mark": {"type": "text", "font": "Liberation Sans", "fontSize": 40, "fontWeight": "bold", "color": "#000000", "align": "center", "baseline": "middle"},
 "encoding": {"x": {"field": "w", "type": "quantitative"}, "y": {"field": "a", "type": "quantitative"}, "text": {"field": "t"}}},
{"data": {"values": [{"t": "←", "w": 1623.3, "a": 1.85}]},
 "mark": {"type": "text", "font": "DejaVu Sans", "fontSize": 46, "color": "#000000", "align": "center", "baseline": "middle"},
 "encoding": {"x": {"field": "w", "type": "quantitative"}, "y": {"field": "a", "type": "quantitative"}, "text": {"field": "t"}}},
{"data": {"values": [{"t": "38", "w": 1410.2, "a": -0.164}]},
 "mark": {"type": "text", "font": "Liberation Sans", "fontSize": 27, "color": "#8c8c8c", "align": "center", "baseline": "middle"},
 "encoding": {"x": {"field": "w", "type": "quantitative"}, "y": {"field": "a", "type": "quantitative"}, "text": {"field": "t"}}},
{"data": {"values": [{"t": "e 12", "w": 1716.77, "a": -0.295}]},
 "mark": {"type": "text", "font": "Liberation Sans", "fontSize": 35, "color": "#000000", "align": "left", "baseline": "middle"},
 "encoding": {"x": {"field": "w", "type": "quantitative"}, "y": {"field": "a", "type": "quantitative"}, "text": {"field": "t"}}}
]
}
]
}
